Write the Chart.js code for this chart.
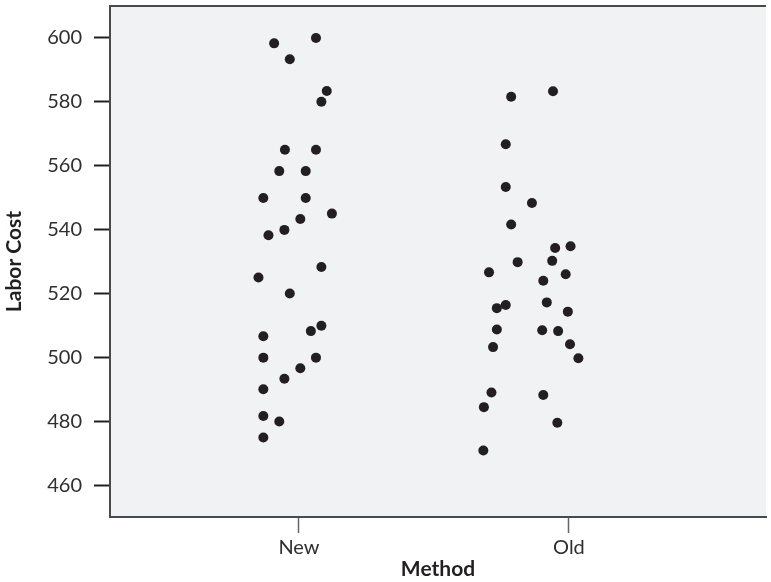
<!DOCTYPE html>
<html>
<head>
<meta charset="utf-8">
<script src="https://cdn.jsdelivr.net/npm/chart.js@4"></script>
<style>
  body { margin: 0; background: #fff; }
  canvas { display: block; }
</style>
</head>
<body>
<canvas id="chart" width="771" height="582"></canvas>
<script>
const methods = ["New", "Old"];
const yTicks = [460, 480, 500, 520, 540, 560, 580, 600];

// Labor cost per job, with the horizontal jitter of each dot
const newCost = [598.3, 600, 593.3, 583.4, 580, 565, 565, 558.3, 558.3, 549.9, 549.9, 545, 543.3, 539.9, 538.2,
  528.3, 525, 520, 509.9, 508.2, 506.6, 499.9, 499.9, 496.6, 493.3, 490, 481.6, 479.9, 474.9];
const newJitter = [-0.092, 0.063, -0.034, 0.103, 0.083, -0.052, 0.063, -0.073, 0.025, -0.132, 0.025, 0.122, 0.005, -0.054, -0.113,
  0.083, -0.150, -0.034, 0.083, 0.044, -0.132, -0.132, 0.063, 0.005, -0.054, -0.132, -0.132, -0.073, -0.132];
const oldCost = [581.6, 583.3, 566.7, 553.3, 548.3, 541.6, 534.2, 534.8, 529.8, 530.2, 526.6, 524, 526, 515.4,
  516.4, 517.2, 514.3, 508.7, 508.5, 508.2, 503.2, 504.1, 499.7, 489, 488.2, 484.4, 479.5, 470.8];
const oldJitter = [-0.214, -0.059, -0.234, -0.234, -0.137, -0.214, -0.051, 0.006, -0.190, -0.062, -0.296, -0.095, -0.012, -0.267,
  -0.234, -0.082, -0.004, -0.267, -0.099, -0.040, -0.281, 0.004, 0.035, -0.287, -0.095, -0.315, -0.043, -0.317];

const toPoints = (costs, jitter, pos) => costs.map((c, i) => ({ x: pos + jitter[i], y: c }));

// grey plot background plus the top frame line
const plotFrame = {
  id: "plotFrame",
  beforeDraw(chart) {
    const { ctx, chartArea: a } = chart;
    ctx.save();
    ctx.fillStyle = "#f1f2f4";
    ctx.fillRect(a.left, a.top, a.right - a.left, a.bottom - a.top);
    ctx.strokeStyle = "#4a4a4a";
    ctx.lineWidth = 2;
    ctx.beginPath();
    ctx.moveTo(a.left, a.top);
    ctx.lineTo(a.right, a.top);
    ctx.stroke();
    ctx.restore();
  }
};

const font = { family: "Lato, 'Open Sans', sans-serif", size: 20 };
const titleFont = { family: "Lato, 'Open Sans', sans-serif", size: 21, weight: "bold" };

new Chart(document.getElementById("chart"), {
  type: "scatter",
  data: {
    datasets: [
      { data: toPoints(newCost, newJitter, 1) },
      { data: toPoints(oldCost, oldJitter, 2) }
    ]
  },
  options: {
    responsive: false,
    animation: false,
    layout: { padding: { top: 6, right: 0, left: 0, bottom: 0 } },
    plugins: { legend: { display: false }, tooltip: { enabled: false } },
    elements: {
      point: { radius: 5, backgroundColor: "#231f20", borderWidth: 0 }
    },
    scales: {
      x: {
        type: "linear",
        min: 0.3,
        max: 2.73,
        afterBuildTicks: s => { s.ticks = methods.map((m, i) => ({ value: i + 1 })); },
        afterFit: s => { s.height = 65; s.paddingLeft = 0; s.paddingRight = 0; },
        ticks: {
          callback: v => methods[v - 1],
          color: "#2f2f2f",
          font: font,
          padding: 3,
          maxRotation: 0
        },
        grid: { drawOnChartArea: false, tickLength: 16, tickColor: "#666", tickWidth: 1.5 },
        border: { color: "#4a4a4a", width: 2 },
        title: { display: true, text: "Method", color: "#231f20", font: titleFont, padding: { top: 0, bottom: 0 } }
      },
      y: {
        min: 450,
        max: 610,
        afterBuildTicks: s => { s.ticks = yTicks.map(v => ({ value: v })); },
        afterFit: s => { s.width = 110; s.paddingTop = 0; s.paddingBottom = 0; },
        ticks: { color: "#2f2f2f", font: font, padding: 12 },
        grid: { drawOnChartArea: false, tickLength: 16, tickColor: "#231f20", tickWidth: 2 },
        border: { color: "#4a4a4a", width: 2 },
        title: { display: true, text: "Labor Cost", color: "#231f20", font: titleFont, padding: { top: 2, bottom: 0 } }
      }
    }
  },
  plugins: [plotFrame]
});
</script>
</body>
</html>
